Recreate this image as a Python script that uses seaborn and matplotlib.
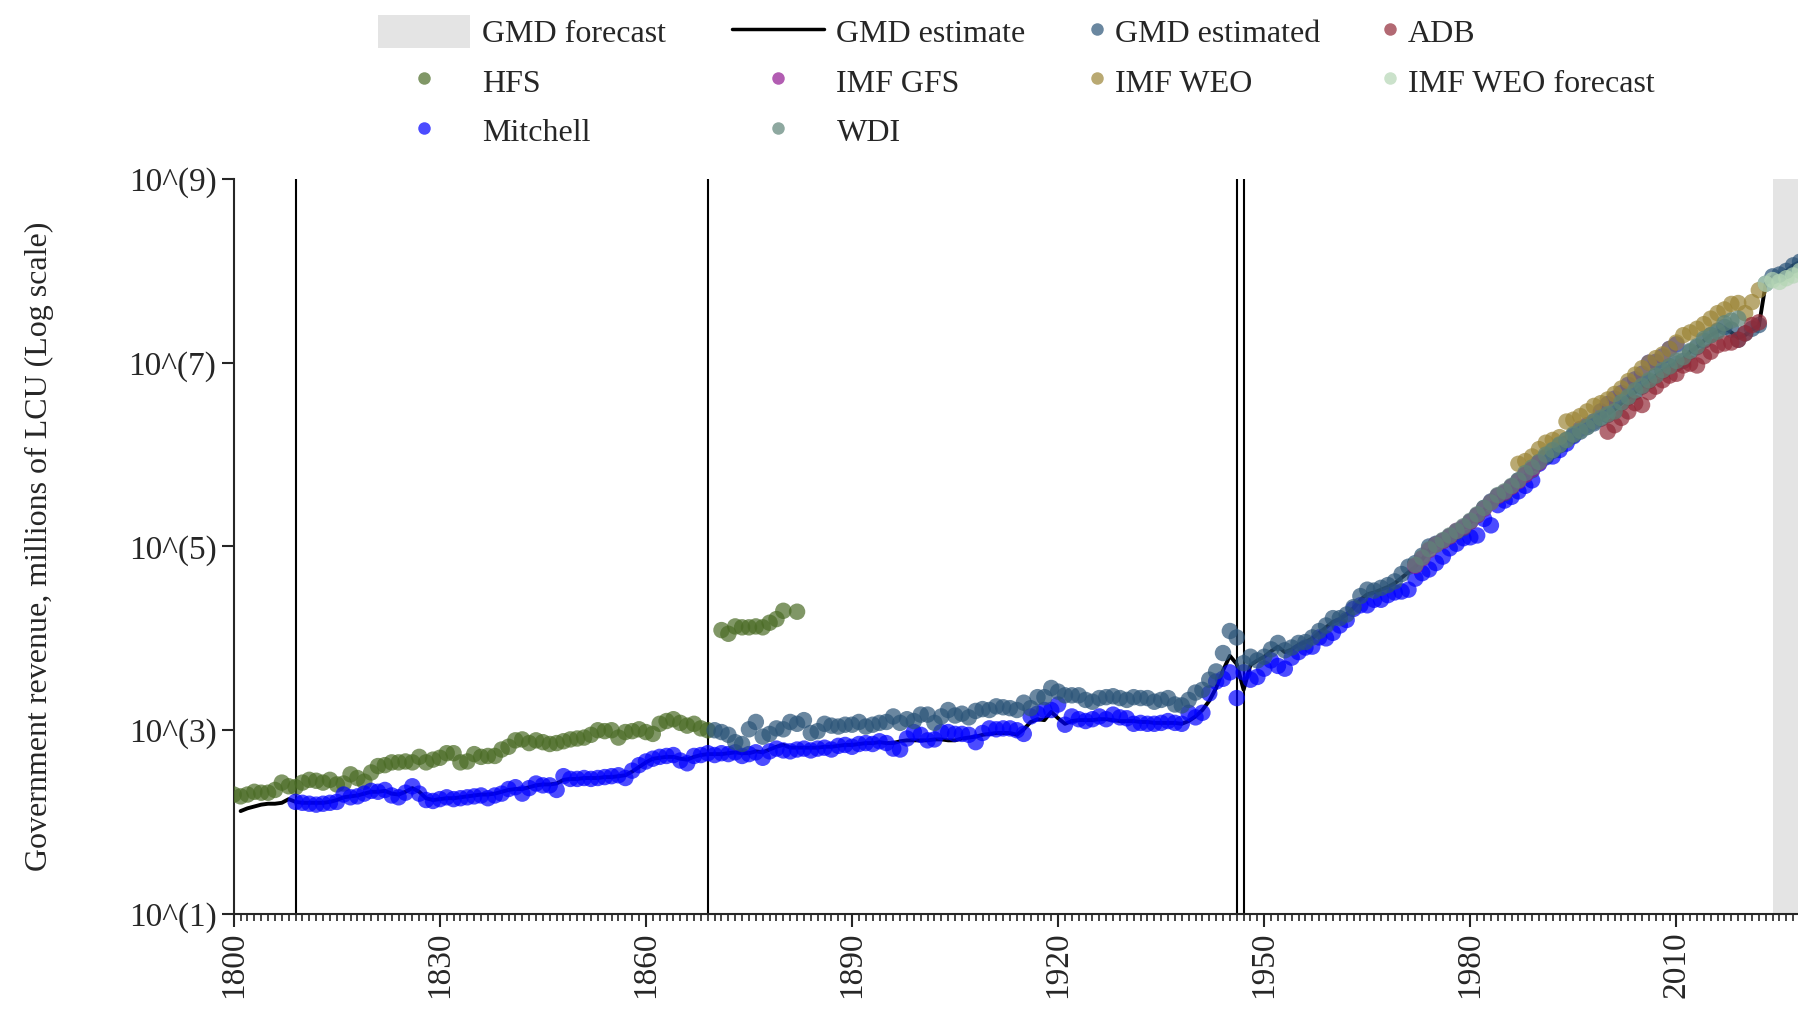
import numpy as np
import pandas as pd
import matplotlib
matplotlib.use("Agg")
import matplotlib.pyplot as plt
from matplotlib.lines import Line2D
from matplotlib.patches import Patch
import seaborn as sns

# exponents (log10 of millions of LCU)
hfs_years = list(range(1800, 1870)) + list(range(1871, 1881)) + [1882]
hfs_exp = [2.30, 2.28, 2.30, 2.33, 2.32, 2.32, 2.35, 2.43, 2.39, 2.38,
           2.43, 2.46, 2.45, 2.43, 2.46, 2.41, 2.42, 2.52, 2.48, 2.44,
           2.54, 2.61, 2.62, 2.65, 2.65, 2.66, 2.65, 2.71, 2.65, 2.68,
           2.70, 2.75, 2.75, 2.65, 2.66, 2.74, 2.71, 2.72, 2.72, 2.79,
           2.82, 2.89, 2.90, 2.86, 2.89, 2.87, 2.85, 2.86, 2.88, 2.90,
           2.91, 2.92, 2.95, 3.00, 2.99, 3.00, 2.92, 2.98, 2.99, 3.01,
           2.98, 2.96, 3.07, 3.10, 3.12, 3.08, 3.05, 3.07, 3.02, 3.00,
           4.09, 4.05, 4.13, 4.12, 4.12, 4.13, 4.12, 4.17, 4.21, 4.30, 4.29]

mitchell_years = list(range(1809, 2011))
mitchell_exp = [2.22,
                2.21, 2.20, 2.19, 2.20, 2.21, 2.22, 2.30, 2.27, 2.28, 2.31,
                2.34, 2.33, 2.35, 2.29, 2.27, 2.32, 2.39, 2.31, 2.24, 2.23,
                2.25, 2.27, 2.25, 2.26, 2.27, 2.28, 2.29, 2.26, 2.29, 2.31,
                2.36, 2.38, 2.31, 2.37, 2.42, 2.40, 2.40, 2.35, 2.50, 2.47,
                2.47, 2.48, 2.47, 2.48, 2.49, 2.50, 2.51, 2.48, 2.56, 2.62,
                2.66, 2.69, 2.71, 2.72, 2.73, 2.67, 2.64, 2.72, 2.73, 2.75,
                2.73, 2.75, 2.74, 2.76, 2.72, 2.74, 2.76, 2.70, 2.77, 2.80,
                2.78, 2.77, 2.79, 2.80, 2.78, 2.80, 2.81, 2.79, 2.83, 2.84,
                2.82, 2.85, 2.86, 2.85, 2.88, 2.86, 2.80, 2.79, 2.91, 2.98,
                2.95, 2.89, 2.90, 2.98, 2.98, 2.96, 2.96, 2.95, 2.87, 2.97,
                3.02, 3.01, 3.02, 3.02, 3.00, 2.96, 3.15, 3.18, 3.22, 3.22,
                3.28, 3.06, 3.15, 3.12, 3.10, 3.12, 3.15, 3.12, 3.17, 3.14,
                3.13, 3.07, 3.08, 3.07, 3.07, 3.08, 3.10, 3.08, 3.07, 3.19,
                3.14, 3.19, 3.40, 3.53, 3.56, 3.63, 3.35, 3.63, 3.55, 3.58,
                3.67, 3.76, 3.70, 3.67, 3.79, 3.85, 3.90, 3.91, 4.01, 4.00,
                4.06, 4.14, 4.20, 4.32, 4.36, 4.36, 4.42, 4.42, 4.47, 4.50,
                4.51, 4.53, 4.65, 4.71, 4.75, 4.82, 4.89, 4.98, 5.03, 5.09,
                5.10, 5.12, 5.30, 5.23, 5.45, 5.50, 5.54, 5.60, 5.66, 5.72,
                5.90, 5.97, 5.98, 6.05, 6.12, 6.20, 6.28, 6.32, 6.36, 6.47,
                6.55, 6.61, 6.67, 6.76, 6.82, 6.88, 7.00, 7.01, 7.07, 7.15,
                7.20]

gmd_est_years = list(range(1870, 2029))
gmd_est_exp = [3.00, 2.98, 2.95, 2.87, 2.85, 3.01, 3.09, 2.93, 2.96, 3.02,
               3.01, 3.09, 3.07, 3.11, 2.97, 2.99, 3.07, 3.05, 3.04, 3.06,
               3.06, 3.09, 3.04, 3.06, 3.08, 3.09, 3.15, 3.08, 3.12, 3.10,
               3.17, 3.17, 3.08, 3.15, 3.22, 3.16, 3.18, 3.14, 3.21, 3.23,
               3.22, 3.26, 3.25, 3.24, 3.22, 3.30, 3.24, 3.36, 3.36, 3.46,
               3.42, 3.38, 3.38, 3.38, 3.33, 3.31, 3.35, 3.36, 3.37, 3.35,
               3.33, 3.36, 3.35, 3.35, 3.31, 3.33, 3.35, 3.28, 3.27, 3.33,
               3.41, 3.44, 3.55, 3.64, 3.84, 4.08, 4.01, 3.73, 3.80, 3.76,
               3.80, 3.88, 3.95, 3.87, 3.90, 3.95, 3.96, 4.01, 4.08, 4.14,
               4.22, 4.22, 4.26, 4.34, 4.46, 4.53, 4.52, 4.55, 4.58, 4.62,
               4.70, 4.78, 4.82, 4.90, 5.00, 5.03, 5.06, 5.11, 5.16, 5.20,
               5.27, 5.34, 5.42, 5.49, 5.55, 5.58, 5.65, 5.72, 5.78, 5.83,
               5.92, 5.98, 6.04, 6.10, 6.16, 6.21, 6.25, 6.30, 6.34, 6.39,
               6.43, 6.47, 6.56, 6.62, 6.68, 6.74, 6.80, 6.86, 6.91, 6.96,
               6.99, 7.02, 7.12, 7.17, 7.24, 7.30, 7.35, 7.39, 7.36, 7.25,
               7.32, 7.37, 7.41, 7.86, 7.94, 7.96, 8.00, 8.06, 8.10]

wdi_years = list(range(1972, 2020))
wdi_exp = [4.80, 4.88, 4.97, 5.02, 5.07, 5.12, 5.17, 5.22,
           5.28, 5.35, 5.42, 5.48, 5.56, 5.60, 5.66, 5.72, 5.80, 5.86,
           5.92, 6.00, 6.05, 6.11, 6.16, 6.22, 6.26, 6.30, 6.36, 6.40,
           6.44, 6.47, 6.57, 6.63, 6.70, 6.75, 6.81, 6.86, 6.92, 6.96,
           7.02, 7.06, 7.13, 7.18, 7.26, 7.30, 7.34, 7.43, 7.46, 7.48]

gfs_years = list(range(1972, 1991))
gfs_exp = [4.79, 4.87, 4.96, 5.02, 5.06, 5.11, 5.17, 5.21,
           5.27, 5.34, 5.41, 5.48, 5.55, 5.59, 5.65, 5.71, 5.78, 5.84, 5.91]

weo_years = list(range(1987, 2023))
weo_exp = [5.90, 5.93, 5.98,
           6.06, 6.13, 6.16, 6.19, 6.36, 6.38, 6.42, 6.47, 6.53, 6.56,
           6.60, 6.66, 6.72, 6.80, 6.87, 6.94, 7.00, 7.05, 7.09, 7.15,
           7.22, 7.30, 7.33, 7.37, 7.42, 7.48, 7.54, 7.58, 7.64, 7.65,
           7.54, 7.66, 7.79]

adb_years = list(range(2000, 2023))
adb_exp = [6.25, 6.32, 6.40, 6.47, 6.56, 6.54, 6.68, 6.74, 6.81, 6.86,
           6.88, 6.97, 6.99, 6.97, 7.07, 7.12, 7.19, 7.21, 7.22, 7.25,
           7.32, 7.41, 7.44]

weo_fc_years = list(range(2023, 2030))
weo_fc_exp = [7.86, 7.90, 7.88, 7.92, 7.95, 8.00, 8.05]

line_years = list(range(1801, 2029))
line_exp = [2.12, 2.15, 2.17, 2.19, 2.20, 2.20, 2.21, 2.25, 2.22,
            2.21, 2.21, 2.21, 2.21, 2.22, 2.24, 2.27, 2.28, 2.29, 2.31,
            2.33, 2.33, 2.34, 2.31, 2.30, 2.33, 2.37, 2.33, 2.26, 2.24,
            2.25, 2.26, 2.26, 2.27, 2.28, 2.29, 2.30, 2.30, 2.31, 2.33,
            2.35, 2.36, 2.36, 2.38, 2.40, 2.41, 2.41, 2.42, 2.46, 2.47,
            2.47, 2.48, 2.48, 2.48, 2.49, 2.49, 2.50, 2.51, 2.55, 2.60,
            2.65, 2.69, 2.70, 2.71, 2.71, 2.69, 2.68, 2.71, 2.73, 2.74,
            2.74, 2.74, 2.75, 2.76, 2.75, 2.75, 2.77, 2.76, 2.79, 2.82,
            2.84, 2.81, 2.81, 2.81, 2.81, 2.81, 2.82, 2.82, 2.83, 2.84,
            2.84, 2.85, 2.86, 2.86, 2.87, 2.86, 2.86, 2.88, 2.89, 2.89,
            2.89, 2.89, 2.90, 2.90, 2.89, 2.89, 2.91, 2.92, 2.93, 2.95,
            2.96, 2.97, 2.97, 2.97, 2.95, 3.01, 3.09, 3.12, 3.11, 3.20,
            3.13, 3.07, 3.10, 3.11, 3.11, 3.11, 3.12, 3.12, 3.11, 3.10,
            3.10, 3.10, 3.09, 3.09, 3.08, 3.08, 3.08, 3.08, 3.07, 3.10,
            3.15, 3.22, 3.32, 3.46, 3.65, 3.81, 3.72, 3.44, 3.71, 3.76,
            3.80, 3.86, 3.91, 3.85, 3.88, 3.93, 3.96, 4.00, 4.06, 4.12,
            4.18, 4.21, 4.26, 4.33, 4.42, 4.48, 4.50, 4.53, 4.56, 4.60,
            4.66, 4.72, 4.78, 4.86, 4.96, 5.01, 5.05, 5.10, 5.15, 5.20,
            5.26, 5.33, 5.40, 5.47, 5.53, 5.58, 5.64, 5.71, 5.77, 5.83,
            5.91, 5.97, 6.03, 6.09, 6.15, 6.20, 6.25, 6.30, 6.34, 6.39,
            6.44, 6.49, 6.56, 6.62, 6.68, 6.74, 6.80, 6.86, 6.91, 6.96,
            7.00, 7.04, 7.12, 7.17, 7.24, 7.30, 7.34, 7.38, 7.33, 7.27,
            7.30, 7.36, 7.40, 7.86, 7.94, 7.96, 8.00, 8.06, 8.10]

breaks = [1809, 1869, 1946, 1947]
forecast_start, forecast_end = 2024, 2030

colors = {
    "HFS": "#4a6b25",
    "Mitchell": "#0000ff",
    "GMD estimated": "#2b5478",
    "IMF GFS": "#921892",
    "IMF WEO": "#9c8537",
    "ADB": "#922a38",
    "WDI": "#5f8478",
    "IMF WEO forecast": "#b5d6b5",
}

# draw order of the scatter points
series = [
    ("HFS", hfs_years, hfs_exp),
    ("Mitchell", mitchell_years, mitchell_exp),
    ("GMD estimated", gmd_est_years, gmd_est_exp),
    ("IMF WEO", weo_years, weo_exp),
    ("ADB", adb_years, adb_exp),
    ("IMF GFS", gfs_years, gfs_exp),
    ("WDI", wdi_years, wdi_exp),
    ("IMF WEO forecast", weo_fc_years, weo_fc_exp),
]
frames = []
for name, yrs, ex in series:
    frames.append(pd.DataFrame({"year": yrs, "value": 10.0 ** np.array(ex), "source": name}))
df = pd.concat(frames, ignore_index=True)

sns.set_style("ticks")
plt.rcParams["font.family"] = ["Liberation Serif", "DejaVu Serif"]
FS = 23

fig = plt.figure(figsize=(17.98, 10.17), dpi=100)
ax = fig.add_axes([0.130, 0.1013, 0.870, 0.7227])

ax.axvspan(forecast_start, forecast_end, color="#e4e4e4", lw=0, zorder=0)
for b in breaks:
    ax.axvline(b, color="black", lw=1.5, zorder=1)

sns.lineplot(x=line_years, y=10.0 ** np.array(line_exp), color="black", lw=2.8,
             estimator=None, ax=ax, zorder=2)
sns.scatterplot(data=df, x="year", y="value", hue="source", palette=colors,
                s=140, alpha=0.7, edgecolor="none", linewidth=0, legend=False,
                ax=ax, zorder=3)

ax.set_yscale("log")
ax.set_ylim(10, 1e9)
ax.set_xlim(1800, 2027.7)
ax.set_yticks([1e1, 1e3, 1e5, 1e7, 1e9])
ax.set_yticklabels(["10^(1)", "10^(3)", "10^(5)", "10^(7)", "10^(9)"])
ax.yaxis.set_minor_locator(matplotlib.ticker.NullLocator())
ax.set_xticks(list(range(1800, 2021, 30)))
ax.set_xticks(list(range(1800, 2028)), minor=True)
ax.tick_params(axis="both", which="major", labelsize=24, length=9, width=1.5)
ax.tick_params(axis="x", which="minor", length=5, width=1.2)
ax.tick_params(axis="x", which="major", labelrotation=90)
for s in ["left", "bottom"]:
    ax.spines[s].set_linewidth(1.5)
sns.despine(ax=ax)
ax.set_xlabel("")
ax.set_ylabel("Government revenue, millions of LCU (Log scale)", fontsize=FS)
ax.yaxis.set_label_coords(-0.115, 0.5)


def dot(name):
    return Line2D([], [], ls="", marker="o", markersize=9, color=colors[name],
                  alpha=0.7, markeredgewidth=0)


top = 1 - 15 / 1017
h_a = [Patch(facecolor="#e4e4e4", edgecolor="none"), dot("HFS"), dot("Mitchell"),
       Line2D([], [], color="black", lw=2.5), dot("IMF GFS"), dot("WDI")]
l_a = ["GMD forecast", "HFS", "Mitchell", "GMD estimate", "IMF GFS", "WDI"]
fig.legend(h_a, l_a, ncol=2, loc="upper left", bbox_to_anchor=(378 / 1798, top),
           frameon=False, fontsize=FS, handlelength=2.87, handletextpad=0.4,
           columnspacing=2.05, labelspacing=0.49, handleheight=1.19,
           borderpad=0, borderaxespad=0)

h_b = [dot("GMD estimated"), dot("IMF WEO"), dot("ADB"), dot("IMF WEO forecast")]
l_b = ["GMD estimated", "IMF WEO", "ADB", "IMF WEO forecast"]
fig.legend(h_b, l_b, ncol=2, loc="upper left", bbox_to_anchor=(1089 / 1798, top),
           frameon=False, fontsize=FS, handlelength=0.52, handletextpad=0.28,
           columnspacing=1.95, labelspacing=0.49, handleheight=1.19,
           borderpad=0, borderaxespad=0)

fig.savefig("out.png", dpi=100)
